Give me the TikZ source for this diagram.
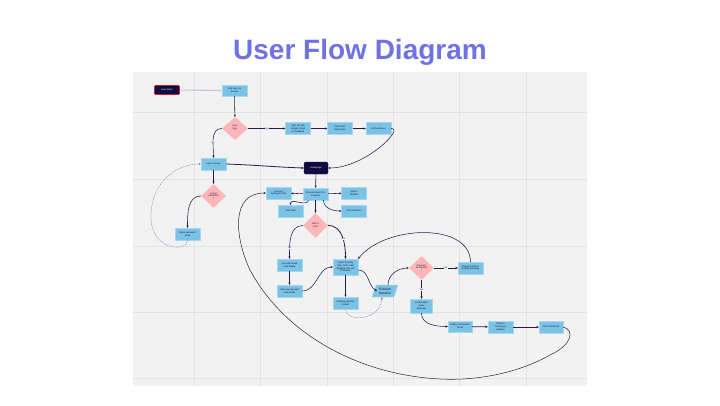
\documentclass[tikz,border=0pt]{standalone}
\usepackage{fontspec}
\setmainfont{Liberation Sans}
\usetikzlibrary{shapes.geometric,arrows.meta,calc}
\definecolor{panel}{HTML}{F2F2F2}
\definecolor{gridc}{HTML}{E3E3E3}
\definecolor{boxfill}{HTML}{7AC3E4}
\definecolor{boxline}{HTML}{A8D6EC}
\definecolor{pinkd}{HTML}{FFB6B8}
\definecolor{navy}{HTML}{0F0C40}
\definecolor{connc}{HTML}{221E55}
\definecolor{titlec}{HTML}{6E73E1}
\definecolor{lightc}{HTML}{C6C4D8}
\definecolor{dashc}{HTML}{8A86AA}
\definecolor{startred}{HTML}{D0182A}
\tikzset{
  tinyf/.style={font=\fontsize{2.3}{2.7}\selectfont},
  box/.style={tinyf, draw=boxline, line width=0.3pt, fill=boxfill, minimum width=25pt, minimum height=12pt, inner sep=0.4pt, align=center, text=navy},
  darkbox/.style={tinyf, fill=navy, draw=navy, rounded corners=1.5pt, minimum width=24pt, minimum height=12pt, inner sep=0.4pt, align=center, text=white},
  decide/.style={tinyf, diamond, fill=pinkd, draw=none, minimum width=25pt, minimum height=24pt, inner sep=0pt, align=center, text=navy},
  refr/.style={font=\fontsize{3.3}{3.8}\selectfont, trapezium, trapezium left angle=65, trapezium right angle=115, trapezium stretches=true, fill=boxfill, draw=boxline, line width=0.3pt, minimum width=26pt, minimum height=12pt, inner sep=0pt, align=center, text=navy},
  conn/.style={draw=connc, line width=0.55pt, -{Stealth[length=2.4pt,width=2.2pt]}},
  thickconn/.style={draw=connc, line width=0.8pt, -{Stealth[length=2.6pt,width=2.4pt]}},
  lightconn/.style={draw=lightc, line width=1.1pt, -{Stealth[length=2.8pt,width=2.6pt]}},
  dashconn/.style={draw=dashc, line width=0.4pt, dashed, dash pattern=on 1.5pt off 0.8pt, -{Stealth[length=2.4pt,width=2.2pt]}},
  bigconn/.style={draw=black!85, line width=0.5pt, -{Stealth[length=2.4pt,width=2.2pt]}},
  lbl/.style={tinyf, fill=panel, inner sep=0.3pt, text=navy}
}
\begin{document}
\begin{tikzpicture}[x=1pt,y=-1pt]
\useasboundingbox (0,0) rectangle (720,405);
\fill[white] (0,0) rectangle (720,405);
\node[font=\fontsize{28}{32}\selectfont\bfseries, text=titlec, anchor=base, inner sep=0pt] (title) at (360,59) {User Flow Diagram};
\fill[panel] (133,72) rectangle (587,386);
\foreach \x in {194,260.5,327,393,459.5,526} \draw[gridc, line width=0.6pt] (\x,72) -- (\x,386);
\foreach \y in {112,179,246,312,378} \draw[gridc, line width=0.6pt] (133,\y) -- (587,\y);

% nodes
\node[darkbox, draw=startred, line width=0.6pt, rounded corners=1pt, minimum width=25pt, minimum height=9pt] (start) at (167,90) {User Starts};
\node[box, minimum height=11pt] (signup) at (234.5,90.5) {Visit Sign Up\\Screen};
\node[decide, minimum width=26pt, minimum height=23pt] (d1) at (235,128.5) {New\\User\\?};
\node[box] (s1) at (298,128.5) {Sign Up with\\Google, Email\\or Facebook};
\node[box] (s2) at (340,128.5) {Fill in User\\Information};
\node[box] (s3) at (378.5,128.5) {Verify Account};
\node[darkbox] (home) at (316,168) {Homepage};
\node[box] (login) at (213.5,164) {Log in Screen};
\node[decide] (d2) at (213.5,196) {Forgot\\password\\?};
\node[box] (reset) at (187.5,234) {Reset password\\email};
\node[box] (browse) at (315.5,194) {Browse/Search for\\Products};
\node[box] (acct) at (278.5,193) {Account\\Settings/Profile};
\node[box] (wish) at (354,193) {Add to\\Wishlist};
\node[box] (cart) at (290.5,211) {View Cart};
\node[box] (filter) at (354,211) {Filter Products};
\node[decide, minimum height=25pt] (d3) at (315.5,225.5) {Add to\\cart?};
\node[box] (pay1) at (289.5,265) {Pay with saved\\card details};
\node[box, minimum height=16pt] (sel) at (345.5,267) {Select Quantity,\\Size, Color, Add\\Shipping Info and\\Checkout};
\node[box] (pay2) at (289.5,291) {Add new payment\\card details};
\node[box] (ship) at (345.5,303) {Shipping Options\\Details};
\node[refr] (refresh) at (385,291) {Refresh\\Session};
\node[decide] (d4) at (421.5,268) {Payment\\Successful\\?};
\node[box] (fail) at (470.5,268) {Payment Failure\\Display Message};
\node[box, minimum width=22pt, minimum height=14pt] (conf) at (421.5,306) {Confirmation\\Order\\Message};
\node[box, minimum width=24pt, minimum height=11pt] (ord) at (460,326.5) {Order Confirmation\\Email};
\node[box] (track) at (500.5,327) {Delivery\\Tracking \&\\Updates};
\node[box, minimum width=24pt] (deliv) at (551,327) {Order Delivered};

% connectors
\draw[lightconn] (start) -- (signup);
\draw[conn] (signup) -- (d1);
\draw[conn] (d1.east) -- node[lbl]{Yes} (s1.west);
\draw[conn] (s1) -- (s2);
\draw[conn] (s2) -- (s3);
\draw[conn] (s3.east) .. controls (405,128) and (365,168) .. (home.east);
\draw[conn] (d1.west) to[out=180,in=90] node[lbl, pos=0.6]{No} (login.north);
\draw[thickconn] (login.east) to[out=-2,in=178] (home.west);
\draw[conn] (login) -- (d2);
\draw[conn] (d2.west) to[out=180,in=90] (reset.north);
\draw[dashconn] (reset.south) .. controls (188,252) and (150,252) .. (151,215) .. controls (152,180) and (178,164) .. (login.west);
\draw[conn] (home) -- (browse);
\draw[conn] (browse) -- (acct);
\draw[conn] (browse) -- (wish);
\draw[conn] (browse) -- (d3);
\draw[conn] ([xshift=-7pt]browse.south) to[out=-100,in=90] (cart.north);
\draw[conn] ([xshift=8pt]browse.south) to[out=-90,in=180] (filter.west);
\draw[conn] (d3.west) to[out=180,in=90] node[lbl, pos=0.75]{No} (pay1.north);
\draw[thickconn] (d3.east) to[out=0,in=90] node[lbl, pos=0.55]{Yes} (sel.north);
\draw[conn] (pay1) -- (pay2);
\draw[conn] (pay2.east) to[out=0,in=180] (sel.west);
\draw[conn] (sel) -- (ship);
\draw[conn] ([yshift=-3pt]sel.east) to[out=0,in=150] ([xshift=3pt]refresh.west);
\draw[dashconn] (ship.south) .. controls (345,322) and (380,322) .. ([xshift=-3pt]refresh.south);
\draw[conn] ([xshift=3pt]refresh.north) to[out=90,in=180] (d4.west);
\draw[thickconn] (d4.east) -- node[lbl]{No} (fail.west);
\draw[thickconn] (d4.south) -- node[lbl]{Yes} (conf.north);
\draw[conn] (fail.north) .. controls (470,222) and (385,225) .. (sel.north east);
\draw[conn] (conf.south) to[out=-90,in=180] (ord.west);
\draw[thickconn] (ord) -- (track);
\draw[thickconn] (track) -- (deliv);
\draw[bigconn] (deliv.east) .. controls (575,330) and (572,345) .. (550,355) .. controls (520,372) and (480,381) .. (440,379) .. controls (360,375) and (285,335) .. (250,270) .. controls (235,238) and (230,193) .. (acct.west);
\end{tikzpicture}
\end{document}
